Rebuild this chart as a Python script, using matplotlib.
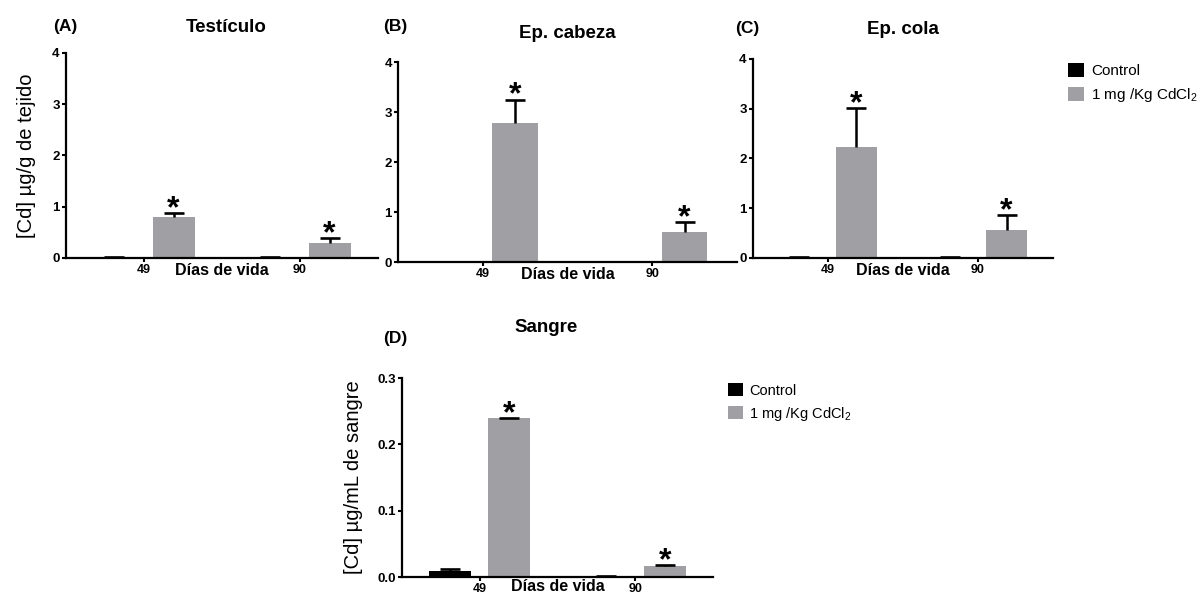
import matplotlib
matplotlib.use('Agg')
import matplotlib.pyplot as plt
from matplotlib.patches import Patch
import numpy as np

plt.rcParams['font.family'] = ['Liberation Sans', 'DejaVu Sans']
plt.rcParams['mathtext.fontset'] = 'custom'
plt.rcParams['mathtext.rm'] = 'Liberation Sans'
plt.rcParams['mathtext.it'] = 'Liberation Sans:italic'
plt.rcParams['mathtext.bf'] = 'Liberation Sans:bold'

# ---------------- data ----------------
days = ['49', '90']
group_labels = ['Control', '1 mg /Kg CdCl$_2$']

testiculo_control = [0.02, 0.01]
testiculo_control_err = [0.0, 0.0]
testiculo_cd = [0.80, 0.30]
testiculo_cd_err = [0.08, 0.09]

cabeza_control = [0.01, 0.01]
cabeza_control_err = [0.0, 0.0]
cabeza_cd = [2.78, 0.60]
cabeza_cd_err = [0.47, 0.20]

cola_control = [0.02, 0.01]
cola_control_err = [0.0, 0.0]
cola_cd = [2.23, 0.56]
cola_cd_err = [0.79, 0.30]

sangre_control = [0.009, 0.001]
sangre_control_err = [0.003, 0.0]
sangre_cd = [0.239, 0.016]
sangre_cd_err = [0.001, 0.002]

signif = [True, True]

# ---------------- style ----------------
BLACK = '#000000'
GRAY = '#a0a0a4'

fig = plt.figure(figsize=(12.04, 5.94), dpi=100)

panels = [
    dict(rect=[0.0548, 0.5657, 0.2591, 0.3451], letter='(A)', title='Testículo',
         ctrl=testiculo_control, ctrl_err=testiculo_control_err,
         cd=testiculo_cd, cd_err=testiculo_cd_err, ylim=4, yticks=[0, 1, 2, 3, 4],
         fmt='{:.0f}', ylabel='[Cd] µg/g de tejido', lpad=12,
         letter_xy=(53, 27), title_xy=(226, 27), dv_off=-9),
    dict(rect=[0.3306, 0.5589, 0.2816, 0.3367], letter='(B)', title='Ep. cabeza',
         ctrl=cabeza_control, ctrl_err=cabeza_control_err,
         cd=cabeza_cd, cd_err=cabeza_cd_err, ylim=4, yticks=[0, 1, 2, 3, 4],
         fmt='{:.0f}', ylabel=None, lpad=0,
         letter_xy=(383, 26), title_xy=(567, 33), dv_off=-9),
    dict(rect=[0.6254, 0.5657, 0.2492, 0.3350], letter='(C)', title='Ep. cola',
         ctrl=cola_control, ctrl_err=cola_control_err,
         cd=cola_cd, cd_err=cola_cd_err, ylim=4, yticks=[0, 1, 2, 3, 4],
         fmt='{:.0f}', ylabel=None, lpad=0,
         letter_xy=(735, 28), title_xy=(903, 30), dv_off=-9),
    dict(rect=[0.3339, 0.0286, 0.2583, 0.3350], letter='(D)', title='Sangre',
         ctrl=sangre_control, ctrl_err=sangre_control_err,
         cd=sangre_cd, cd_err=sangre_cd_err, ylim=0.3, yticks=[0, 0.1, 0.2, 0.3],
         fmt='{:.1f}', ylabel='[Cd] µg/mL de sangre', lpad=10,
         letter_xy=(383, 338), title_xy=(546, 328), dv_off=-7),
]

W, H = 1204.0, 594.0
x = np.arange(len(days))
off = 0.19
bw = 0.27


def draw_err(ax, xs, vals, errs):
    vals = np.asarray(vals, float)
    errs = np.asarray(errs, float)
    tops = vals + errs
    ax.vlines(xs, vals, tops, colors=BLACK, linewidth=1.8, zorder=3)
    ax.plot(xs, tops, ls='none', marker='_', ms=14, mew=1.9, color=BLACK, zorder=3)


for p in panels:
    ax = fig.add_axes(p['rect'])
    ax.bar(x - off, p['ctrl'], width=bw, color=BLACK, edgecolor='none', zorder=2)
    ax.bar(x + off, p['cd'], width=bw, color=GRAY, edgecolor='none', zorder=2)
    draw_err(ax, x - off, p['ctrl'], p['ctrl_err'])
    draw_err(ax, x + off, p['cd'], p['cd_err'])
    for i in range(len(days)):
        if signif[i]:
            top = p['cd'][i] + p['cd_err'][i]
            ax.annotate('*', xy=(x[i] + off, top), xytext=(0, -3),
                        textcoords='offset points', ha='center', va='baseline',
                        fontsize=23, fontweight='bold')
    ax.set_xlim(-0.5, 1.5)
    ax.set_ylim(0, p['ylim'])
    ax.set_yticks(p['yticks'])
    ax.set_yticklabels([p['fmt'].format(v) for v in p['yticks']],
                       fontsize=9.5, fontweight='bold')
    ax.set_xticks(x)
    ax.set_xticklabels(days, fontsize=9, fontweight='bold')
    for s in ['top', 'right']:
        ax.spines[s].set_visible(False)
    for s in ['left', 'bottom']:
        ax.spines[s].set_linewidth(1.6)
    ax.tick_params(axis='both', direction='out', length=3, width=1.5, pad=1.5)
    ax.annotate('Días de vida', xy=(0.5, 0), xycoords=('data', 'axes fraction'),
                xytext=(0, p['dv_off']), textcoords='offset points', ha='center',
                va='center', fontsize=11.5, fontweight='bold')
    if p['ylabel']:
        ax.set_ylabel(p['ylabel'], fontsize=14.5, labelpad=p['lpad'])
    lx, ly = p['letter_xy']
    fig.text(lx / W, 1 - ly / H, p['letter'], fontsize=12.5, fontweight='bold',
             ha='left', va='center')
    tx, ty = p['title_xy']
    fig.text(tx / W, 1 - ty / H, p['title'], fontsize=13.5, fontweight='bold',
             ha='center', va='center')

handles = [Patch(facecolor=BLACK, edgecolor='none'), Patch(facecolor=GRAY, edgecolor='none')]
fig.legend(handles, group_labels, loc='upper left', bbox_to_anchor=(1068 / W, 1 - 63 / H),
           frameon=False, fontsize=11, handlelength=1.05, handleheight=1.05,
           handletextpad=0.45, labelspacing=0.5, borderpad=0, borderaxespad=0)
fig.legend(handles, group_labels, loc='upper left', bbox_to_anchor=(728 / W, 1 - 383 / H),
           frameon=False, fontsize=10.5, handlelength=1.0, handleheight=1.0,
           handletextpad=0.45, labelspacing=0.5, borderpad=0, borderaxespad=0)

fig.savefig('out.png', dpi=100)
